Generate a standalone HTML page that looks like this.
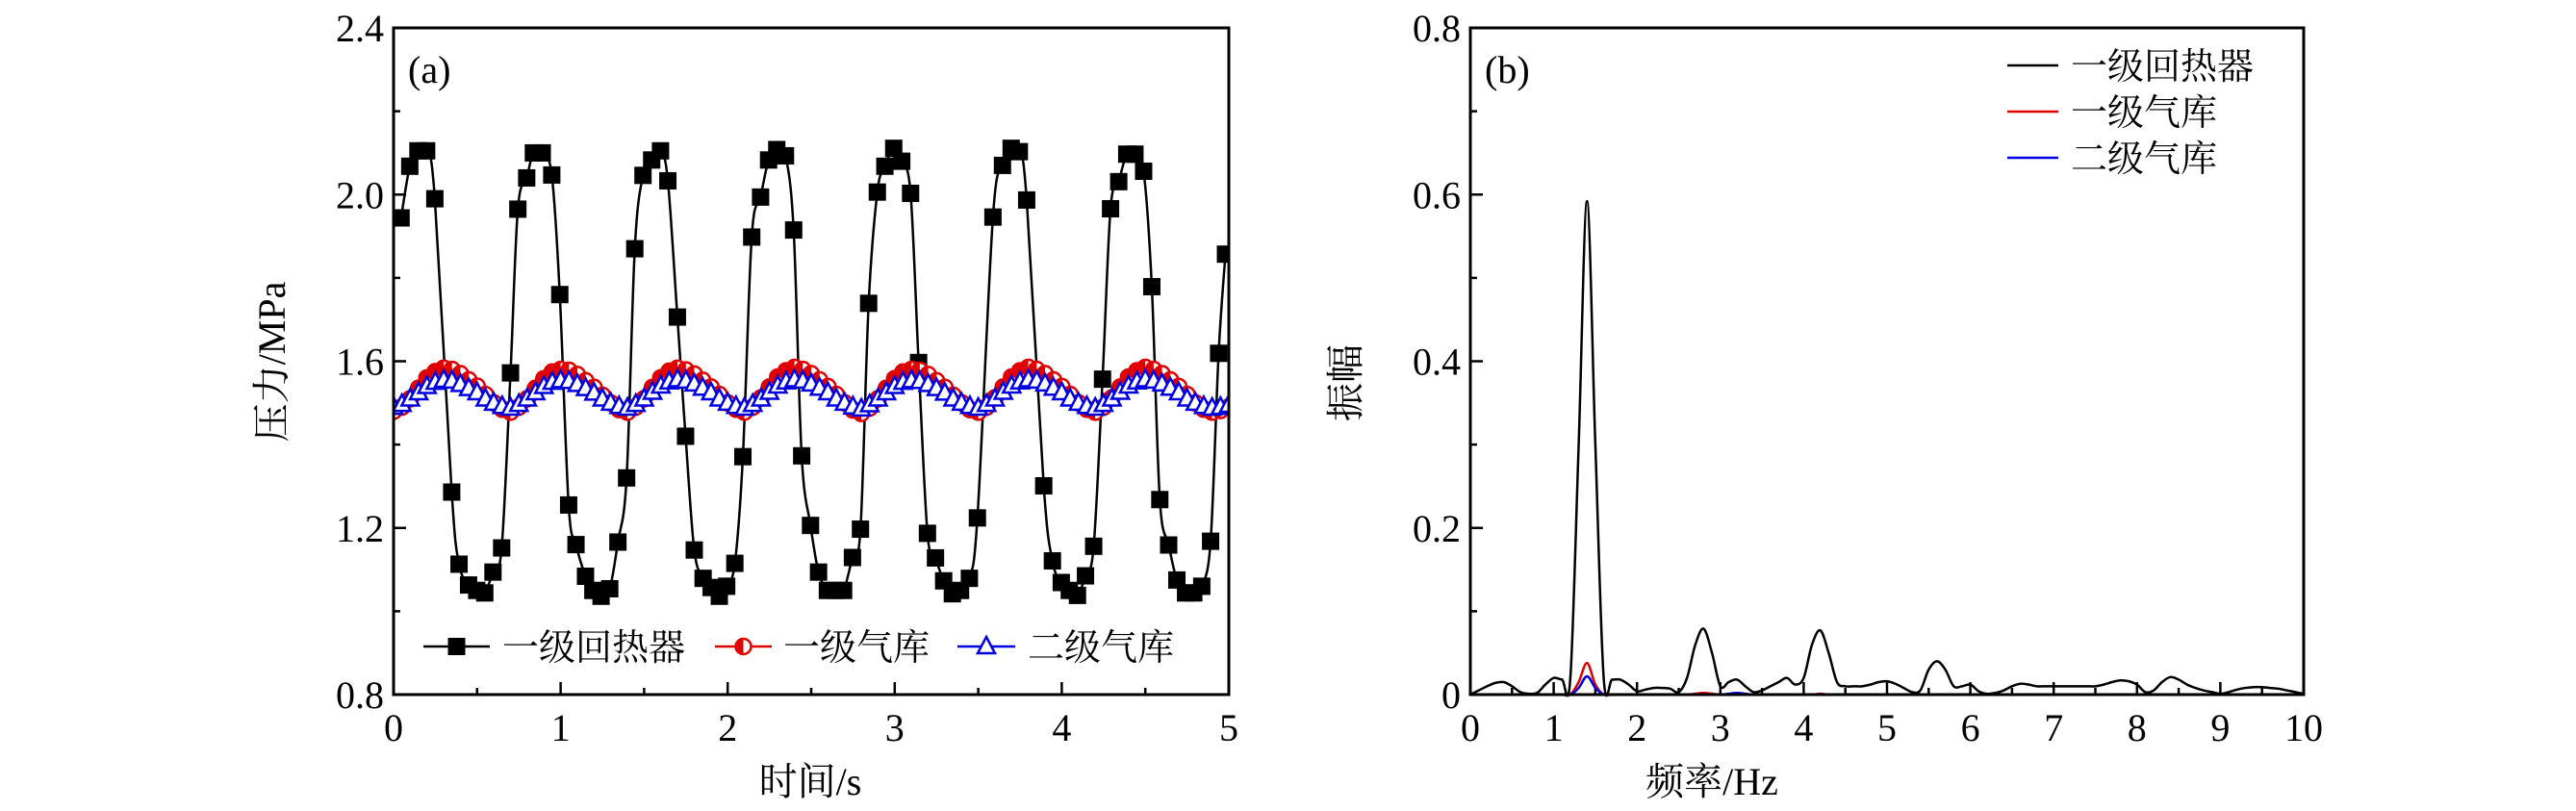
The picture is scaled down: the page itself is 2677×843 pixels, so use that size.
<!DOCTYPE html>
<html><head><meta charset="utf-8"><style>
html,body{margin:0;padding:0;background:#fff;}
svg{display:block;}
text{font-family:"Liberation Serif","Noto Serif CJK SC",serif;fill:#000;}
.cj{font-family:"Liberation Serif","Noto Serif CJK SC","Noto Sans CJK SC",serif;}
</style></head><body>
<svg id="chart" width="2677" height="843" viewBox="0 0 2677 843" xmlns="http://www.w3.org/2000/svg"></svg>
<script>
// ---- Panel (a) data ----
const timeA = [0.045,0.097,0.146,0.198,0.247,0.348,0.392,0.449,0.498,0.546,0.595,0.647,0.7,0.744,0.797,0.837,0.89,0.947,0.995,1.048,1.092,1.149,1.193,1.242,1.294,1.343,1.395,1.444,1.493,1.545,1.598,1.642,1.699,1.748,1.8,1.853,1.901,1.95,1.994,2.043,2.091,2.144,2.197,2.245,2.294,2.346,2.395,2.443,2.496,2.544,2.597,2.646,2.694,2.747,2.795,2.844,2.896,2.941,2.994,3.042,3.095,3.143,3.196,3.244,3.293,3.345,3.394,3.447,3.495,3.588,3.645,3.697,3.746,3.79,3.892,3.944,3.997,4.045,4.094,4.142,4.191,4.244,4.292,4.341,4.389,4.438,4.49,4.539,4.587,4.64,4.689,4.741,4.79,4.838,4.891,4.939,4.98];
const regenValues = [1.944,2.068,2.105,2.105,1.99,1.286,1.113,1.063,1.05,1.044,1.094,1.152,1.572,1.965,2.04,2.10,2.10,2.047,1.76,1.255,1.16,1.084,1.05,1.036,1.054,1.166,1.32,1.87,2.046,2.083,2.105,2.033,1.706,1.42,1.147,1.079,1.057,1.036,1.06,1.115,1.371,1.898,1.994,2.083,2.108,2.093,1.915,1.373,1.206,1.094,1.05,1.05,1.05,1.129,1.197,1.739,2.006,2.068,2.111,2.08,2.003,1.597,1.187,1.128,1.073,1.042,1.05,1.079,1.224,1.946,2.07,2.111,2.103,1.987,1.301,1.121,1.069,1.05,1.038,1.085,1.156,1.557,1.966,2.031,2.097,2.097,2.056,1.779,1.268,1.159,1.075,1.044,1.044,1.06,1.168,1.619,1.857];
const timeB = [0,0.05,0.1,0.15,0.2,0.25,0.3,0.35,0.4,0.45,0.5,0.55,0.6,0.65,0.7,0.75,0.8,0.85,0.9,0.95,1,1.05,1.1,1.15,1.2,1.25,1.3,1.35,1.4,1.45,1.5,1.55,1.6,1.65,1.7,1.75,1.8,1.85,1.9,1.95,2,2.05,2.1,2.15,2.2,2.25,2.3,2.35,2.4,2.45,2.5,2.55,2.6,2.65,2.7,2.75,2.8,2.85,2.9,2.95,3,3.05,3.1,3.15,3.2,3.25,3.3,3.35,3.4,3.45,3.5,3.55,3.6,3.65,3.7,3.75,3.8,3.85,3.9,3.95,4,4.05,4.1,4.15,4.2,4.25,4.3,4.35,4.4,4.45,4.5,4.55,4.6,4.65,4.7,4.75,4.8,4.85,4.9,4.95,5];
const tank1Values = [1.48,1.49,1.51,1.535,1.56,1.575,1.583,1.58,1.57,1.555,1.54,1.52,1.50,1.485,
1.478,1.49,1.51,1.535,1.558,1.574,1.58,1.578,1.568,1.553,1.537,1.518,1.50,1.484,
1.478,1.49,1.51,1.537,1.56,1.576,1.583,1.579,1.569,1.554,1.538,1.52,1.50,1.485,
1.478,1.49,1.512,1.538,1.562,1.577,1.585,1.58,1.57,1.555,1.539,1.52,1.50,1.483,
1.475,1.488,1.51,1.535,1.558,1.574,1.58,1.578,1.568,1.553,1.537,1.518,1.50,1.484,
1.478,1.49,1.512,1.538,1.562,1.577,1.585,1.58,1.57,1.555,1.539,1.52,1.50,1.485,
1.478,1.49,1.512,1.538,1.562,1.577,1.585,1.58,1.57,1.555,1.539,1.52,1.50,1.485,
1.478,1.482,1.49];
const tank2Values = [1.49,1.497,1.51,1.525,1.54,1.55,1.555,1.553,1.545,1.535,1.525,1.51,1.50,1.492,
1.488,1.497,1.51,1.525,1.54,1.55,1.554,1.552,1.545,1.535,1.524,1.51,1.50,1.492,
1.488,1.497,1.51,1.526,1.541,1.551,1.556,1.553,1.546,1.536,1.525,1.51,1.50,1.492,
1.488,1.497,1.51,1.526,1.541,1.551,1.556,1.553,1.546,1.536,1.525,1.51,1.50,1.491,
1.486,1.496,1.51,1.525,1.54,1.55,1.554,1.552,1.545,1.535,1.524,1.51,1.50,1.492,
1.488,1.497,1.51,1.526,1.541,1.551,1.556,1.553,1.546,1.536,1.525,1.51,1.50,1.492,
1.488,1.497,1.51,1.526,1.541,1.551,1.556,1.553,1.546,1.536,1.525,1.51,1.50,1.492,
1.488,1.49,1.495];
const xTicksA = ["0","1","2","3","4","5"];
const yTicksA = ["0.8","1.2","1.6","2.0","2.4"];
const seriesNames = ["一级回热器","一级气库","二级气库"];
// ---- Panel (b) data ----
const freqB = [0,0.1,0.2,0.3,0.4,0.5,0.6,0.7,0.8,0.9,1,1.1,1.2,1.3,1.4,1.5,1.6,1.7,1.8,1.9,2,2.1,2.2,2.3,2.4,2.5,2.6,2.7,2.8,2.9,3,3.1,3.2,3.3,3.4,3.5,3.6,3.7,3.8,3.9,4,4.1,4.2,4.3,4.4,4.5,4.6,4.7,4.8,4.9,5,5.1,5.2,5.3,5.4,5.5,5.6,5.7,5.8,5.9,6,6.1,6.2,6.3,6.4,6.5,6.6,6.7,6.8,6.9,7,7.1,7.2,7.3,7.4,7.5,7.6,7.7,7.8,7.9,8,8.1,8.2,8.3,8.4,8.5,8.6,8.7,8.8,8.9,9,9.1,9.2,9.3,9.4,9.5,9.6,9.7,9.8,9.9,10];
const specRegen = [0,0.005,0.01,0.014,0.015,0.01,0.003,0.001,0.002,0.012,0.02,0.018,0.02,0.3,0.592,0.3,0.02,0.018,0.018,0.012,0.004,0.006,0.008,0.008,0.007,0.003,0.02,0.06,0.079,0.05,0.01,0.015,0.018,0.01,0.003,0.005,0.01,0.015,0.02,0.012,0.02,0.06,0.077,0.05,0.015,0.01,0.01,0.01,0.012,0.015,0.016,0.013,0.008,0.003,0.005,0.03,0.04,0.03,0.01,0.01,0.012,0.004,0.001,0.002,0.005,0.01,0.013,0.012,0.01,0.01,0.01,0.01,0.01,0.01,0.01,0.01,0.012,0.015,0.017,0.016,0.012,0.003,0.005,0.015,0.021,0.018,0.012,0.008,0.005,0.003,0.001,0.003,0.006,0.008,0.009,0.009,0.008,0.007,0.005,0.003,0.001];
const specTank1 = [0,0,0,0,0,0,0,0,0,0,0,0,0,0.015,0.038,0.012,0,0,0,0,0,0,0,0,0,0,0,0.001,0.002,0.001,0,0,0,0,0,0,0,0,0,0,0,0,0.001,0,0,0,0,0,0,0,0,0,0,0,0,0,0,0,0,0,0,0,0,0,0,0,0,0,0,0,0,0,0,0,0,0,0,0,0,0,0,0,0,0,0,0,0,0,0,0,0,0,0,0,0,0,0,0,0,0,0];
const specTank2 = [0,0,0,0,0,0,0,0,0,0,0,0,0,0.008,0.022,0.008,0,0,0,0,0,0,0,0,0,0,0,0,0,0,0,0.001,0.002,0.001,0,0,0,0,0,0,0,0,0,0,0,0,0,0,0,0,0,0,0,0,0,0,0,0,0,0,0,0,0,0,0,0,0,0,0,0,0,0,0,0,0,0,0,0,0,0,0,0,0,0,0,0,0,0,0,0,0,0,0,0,0,0,0,0,0,0,0];
const xTicksB = ["0","1","2","3","4","5","6","7","8","9","10"];
const yTicksB = ["0","0.2","0.4","0.6","0.8"];

const NS = "http://www.w3.org/2000/svg";
const svg = document.getElementById('chart');
function mk(tag, attrs, parent) {
  const e = document.createElementNS(NS, tag);
  for (const k in attrs) e.setAttribute(k, attrs[k]);
  (parent || svg).appendChild(e);
  return e;
}
const plotTop = 29, bot = 722;
const FS = 40;
const xa = t => 409 + (t - 0) / 5 * (1277 - 409);
const ya = v => bot - (v - 0.8) / 1.6 * (bot - plotTop);
const xb = f => 1528 + f / 10 * (2394 - 1528);
const yb = v => bot - v / 0.8 * (bot - plotTop);

function smoothPath(xs, ys) {
  let d = `M${xs[0]},${ys[0]}`;
  for (let i = 0; i < xs.length - 1; i++) {
    const x0 = xs[Math.max(i-1,0)], y0 = ys[Math.max(i-1,0)];
    const x1 = xs[i], y1 = ys[i], x2 = xs[i+1], y2 = ys[i+1];
    const x3 = xs[Math.min(i+2,xs.length-1)], y3 = ys[Math.min(i+2,xs.length-1)];
    d += ` C${x1+(x2-x0)/6},${y1+(y2-y0)/6} ${x2-(x3-x1)/6},${y2-(y3-y1)/6} ${x2},${y2}`;
  }
  return d;
}

function panel(name, x0, x1, xf, yf, xt, xStep, xMinor, yt, yStep, yMinor, yMin, xMax) {
  const g = mk('g', {});
  
  
  for (let v = 0; v <= xMax + 1e-9; v += xMinor) {
    const major = Math.abs(v / xStep - Math.round(v / xStep)) < 1e-6;
    const t = mk('line', {x1: xf(v), x2: xf(v), y1: bot, y2: bot - (major ? 13 : 7), stroke: '#000', 'stroke-width': 2.5}, g);
    
    
  }
  xt.forEach((lab, i) => {
    const t = mk('text', {x: xf(i * xStep), y: 770, 'text-anchor': 'middle', 'font-size': FS}, g);
    t.textContent = lab;
    
    
  });
  const ymax = yMin + (yt.length - 1) * yStep;
  for (let v = yMin; v <= ymax + 1e-9; v += yMinor) {
    const major = Math.abs((v - yMin) / yStep - Math.round((v - yMin) / yStep)) < 1e-6;
    const t = mk('line', {x1: x0, x2: x0 + (major ? 13 : 7), y1: yf(v), y2: yf(v), stroke: '#000', 'stroke-width': 2.5}, g);
    
    
  }
  yt.forEach((lab, i) => {
    const t = mk('text', {x: x0 - 10, y: yf(yMin + i * yStep) + 14, 'text-anchor': 'end', 'font-size': FS}, g);
    t.textContent = lab;
    
    
  });
  return g;
}

function drawMarker(parent, type, x, y, color) {
  if (type === 'square') return mk('rect', {x: x - 9, y: y - 9, width: 18, height: 18, fill: color}, parent);
  if (type === 'circle') {
    const g = mk('g', {}, parent);
    mk('circle', {cx: x, cy: y, r: 8, fill: '#fff', stroke: color, 'stroke-width': 2.5}, g);
    mk('path', {d: `M${x},${y-8} A8,8 0 0 0 ${x},${y+8} Z`, fill: color}, g);
    return g;
  }
  return mk('path', {d: `M${x},${y-10} L${x+9},${y+7} L${x-9},${y+7} Z`, fill: '#fff', stroke: color, 'stroke-width': 2.5}, parent);
}

// ---- Panel a ----
const ga = panel('panel-a', 409, 1277, xa, ya, xTicksA, 1, 0.5, yTicksA, 0.4, 0.2, 0.8, 5);
const clipA = mk('clipPath', {id: 'ca'});
mk('rect', {x: 409, y: plotTop, width: 868, height: bot - plotTop}, clipA);
const plotA = mk('g', {'clip-path': 'url(#ca)'}, ga);



function drawSeriesA(times, vals, color, marker, name) {
  const xs = times.map(xa), ys = vals.map(ya);
  const p = mk('path', {d: smoothPath(xs, ys), fill: 'none', stroke: color, 'stroke-width': 2.5}, plotA);
  
  
  xs.forEach((x, i) => {
    const m = drawMarker(plotA, marker, x, ys[i], color);
    
    
  });
}
drawSeriesA(timeA, regenValues, '#000', 'square', 'regenerator');
drawSeriesA(timeB, tank1Values, '#e00000', 'circle', 'tank-1');
drawSeriesA(timeB, tank2Values, '#0000e0', 'triangle', 'tank-2');

const fa = mk('rect', {x: 409, y: plotTop, width: 868, height: bot - plotTop, fill: 'none', stroke: '#000', 'stroke-width': 3}, ga);


const la = mk('text', {x: 424, y: 86, 'font-size': FS}, ga);
la.textContent = '(a)';


const legA = mk('g', {}, ga);


const legAx = [[440, 509, 522], [743, 802, 814], [995, 1055, 1068]];
const legAcol = ['#000', '#e00000', '#0000e0'];
const legAm = ['square', 'circle', 'triangle'];
seriesNames.forEach((n, i) => {
  const e = mk('g', {}, legA);
  
  
  mk('line', {x1: legAx[i][0], x2: legAx[i][1], y1: 672, y2: 672, stroke: legAcol[i], 'stroke-width': 2.5}, e);
  drawMarker(e, legAm[i], (legAx[i][0] + legAx[i][1]) / 2, 672, legAcol[i]);
  const t = mk('text', {x: legAx[i][2], y: 686, 'font-size': 38, class: 'cj'}, e);
  t.textContent = n;
});
const xta = mk('text', {x: 842, y: 826, 'text-anchor': 'middle', 'font-size': FS, class: 'cj'}, ga);
xta.textContent = '时间/s';


const yta = mk('text', {x: 0, y: 0, 'text-anchor': 'middle', 'font-size': FS, class: 'cj', transform: 'translate(296,376) rotate(-90)'}, ga);
yta.textContent = '压力/MPa';



// ---- Panel b ----
const gb = panel('panel-b', 1528, 2394, xb, yb, xTicksB, 1, 0.5, yTicksB, 0.2, 0.1, 0, 10);
function drawSpec(vals, color, name) {
  const xs = freqB.map(xb), ys = vals.map(yb);
  const p = mk('path', {d: smoothPath(xs, ys), fill: 'none', stroke: color, 'stroke-width': 2.5}, gb);
  
  
}
drawSpec(specRegen, '#000', 'spectrum-regenerator');
drawSpec(specTank1, '#e00000', 'spectrum-tank-1');
drawSpec(specTank2, '#0000e0', 'spectrum-tank-2');
const fb = mk('rect', {x: 1528, y: plotTop, width: 866, height: bot - plotTop, fill: 'none', stroke: '#000', 'stroke-width': 3}, gb);


const lb = mk('text', {x: 1543, y: 86, 'font-size': FS}, gb);
lb.textContent = '(b)';


const legB = mk('g', {}, gb);


seriesNames.forEach((n, i) => {
  const e = mk('g', {}, legB);
  
  
  const y = 68 + i * 48;
  mk('line', {x1: 2086, x2: 2139, y1: y, y2: y, stroke: legAcol[i], 'stroke-width': 2.5}, e);
  const t = mk('text', {x: 2152, y: y + 14, 'font-size': 38, class: 'cj'}, e);
  t.textContent = n;
});
const xtb = mk('text', {x: 1779, y: 826, 'text-anchor': 'middle', 'font-size': FS, class: 'cj'}, gb);
xtb.textContent = '频率/Hz';


const ytb = mk('text', {x: 0, y: 0, 'text-anchor': 'middle', 'font-size': FS, class: 'cj', transform: 'translate(1412,398) rotate(-90)'}, gb);
ytb.textContent = '振幅';


</script>
</body></html>
